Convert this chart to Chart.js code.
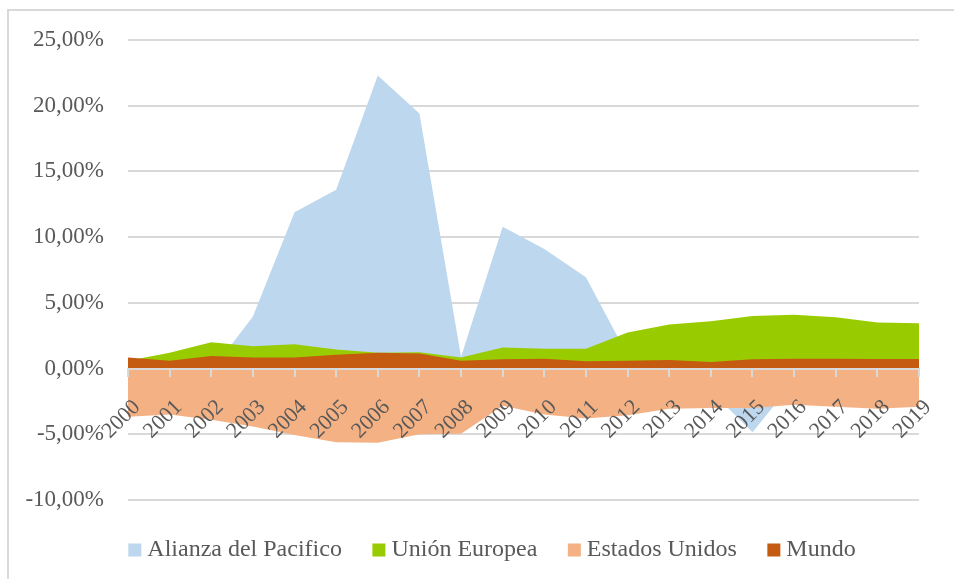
<!DOCTYPE html>
<html>
<head>
<meta charset="utf-8">
<script src="https://cdn.jsdelivr.net/npm/chart.js@4.4.0/dist/chart.umd.min.js"></script>
<style>
  html, body { margin: 0; padding: 0; background: #ffffff; overflow: hidden; }
  #frame {
    position: absolute; left: 7px; top: 9px; width: 1200px; height: 800px;
    border-left: 2px solid #d9d9d9; border-top: 2px solid #d9d9d9;
  }
  /* a bit wider than the window: the right edge of the original picture is cropped */
  #wrap { position: absolute; left: 0; top: 0; width: 966px; height: 579px; }
</style>
</head>
<body>
<div id="frame"></div>
<div id="wrap"><canvas id="chart"></canvas></div>
<script>
// years on the category axis
const years = ["2000", "2001", "2002", "2003", "2004", "2005", "2006", "2007", "2008", "2009",
               "2010", "2011", "2012", "2013", "2014", "2015", "2016", "2017", "2018", "2019"];

// values in percent
const alianzaPacifico = [0.5, 0.3, -0.2, 3.97, 11.9, 13.6, 22.3, 19.4, 0.9, 10.8,
                         9.1, 6.95, 1.0, 0.3, -1.7, -4.85, -0.95, 0.4, 0.9, 1.3];
const unionEuropea = [0.6, 1.2, 2.0, 1.7, 1.85, 1.45, 1.2, 1.25, 0.85, 1.6,
                      1.5, 1.5, 2.75, 3.35, 3.6, 4.0, 4.1, 3.9, 3.5, 3.45];
const estadosUnidos = [-3.66, -3.5, -3.9, -4.4, -5.05, -5.6, -5.65, -5.0, -4.95, -2.82,
                       -3.5, -3.8, -3.55, -3.05, -3.0, -3.0, -2.75, -2.9, -3.05, -2.9];
const mundo = [0.85, 0.6, 0.95, 0.85, 0.85, 1.05, 1.2, 1.15, 0.6, 0.7,
               0.75, 0.55, 0.6, 0.65, 0.5, 0.7, 0.75, 0.75, 0.72, 0.72];

// y axis ticks
const yMin = -10;
const yMax = 25;
const yStep = 5;

const FONT = "'Liberation Serif', 'Times New Roman', serif";
const TEXT = "#595959";
const GRID = "#d9d9d9";

function areaSet(label, data, color, order) {
    return {
        label: label,
        data: data,
        backgroundColor: color,
        borderColor: color,
        borderWidth: 0,
        pointRadius: 0,
        pointHoverRadius: 0,
        pointStyle: "rect",
        tension: 0,
        fill: "origin",
        order: order
    };
}

// empty axis used only to reserve some room
function spacer(position, size) {
    return {
        type: "linear",
        position: position,
        display: true,
        grid: { display: false },
        border: { display: false },
        ticks: { display: false },
        afterFit: (scale) => {
            if (scale.isHorizontal()) scale.height = size;
            else scale.width = size;
        }
    };
}

const ctx = document.getElementById("chart").getContext("2d");

new Chart(ctx, {
    type: "line",
    data: {
        labels: years,
        datasets: [
            areaSet("Alianza del Pacifico", alianzaPacifico, "#bdd7ee", 3),
            areaSet("Unión Europea", unionEuropea, "#99cc00", 2),
            areaSet("Estados Unidos", estadosUnidos, "#f4b183", 1),
            areaSet("Mundo", mundo, "#c55a11", 0)
        ]
    },
    options: {
        responsive: true,
        maintainAspectRatio: false,
        animation: false,
        layout: {
            padding: { left: 24, right: 0, top: 40, bottom: 7 }
        },
        plugins: {
            tooltip: { enabled: false },
            legend: {
                position: "bottom",
                labels: {
                    font: { family: FONT, size: 24 },
                    color: TEXT,
                    usePointStyle: true,
                    boxWidth: 1,
                    boxHeight: 13,
                    padding: 36.5,
                    sort: (a, b) => a.datasetIndex - b.datasetIndex
                }
            }
        },
        scales: {
            x: {
                type: "category",
                offset: false,
                position: { y: 0 },
                grid: {
                    display: true,
                    drawOnChartArea: false,
                    drawTicks: true,
                    tickLength: 7,
                    color: GRID,
                    lineWidth: 2,
                    z: 1
                },
                border: { display: true, color: GRID, width: 2, z: 1 },
                ticks: {
                    font: { family: FONT, size: 22 },
                    color: TEXT,
                    minRotation: 45,
                    maxRotation: 45,
                    autoSkip: false,
                    padding: 19,
                    labelOffset: 9,
                    z: 1
                }
            },
            y: {
                min: yMin,
                max: yMax,
                afterFit: (scale) => { scale.width = 104; },
                grid: { color: GRID, lineWidth: 2, drawTicks: false },
                border: { display: false },
                ticks: {
                    stepSize: yStep,
                    padding: 24,
                    font: { family: FONT, size: 23 },
                    color: TEXT,
                    callback: (v) => v.toFixed(2).replace(".", ",") + "%"
                }
            },
            padRight: spacer("right", 47),
            padBottom: spacer("bottom", 1.5)
        }
    }
});
</script>
</body>
</html>
